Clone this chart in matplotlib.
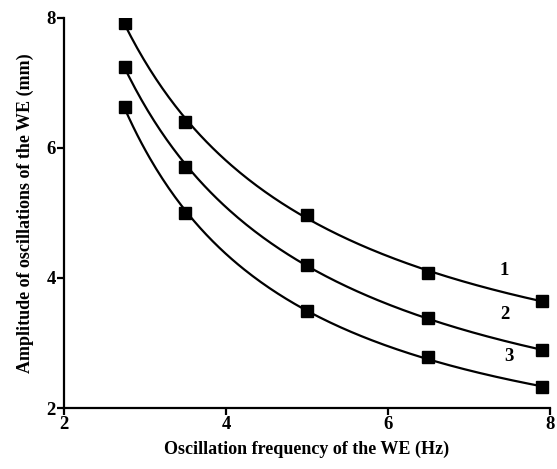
import numpy as np
import matplotlib.pyplot as plt

freq = [2.75, 3.5, 5.0, 6.5, 7.9]
amp_1 = [7.92, 6.40, 4.97, 4.08, 3.65]
amp_2 = [7.25, 5.71, 4.20, 3.38, 2.89]
amp_3 = [6.63, 5.00, 3.49, 2.78, 2.32]
curve_labels = ['1', '2', '3']
label_pos = [(7.44, 4.12), (7.44, 3.44), (7.50, 2.80)]

plt.rcParams['font.family'] = ['Liberation Serif', 'DejaVu Serif']
plt.rcParams['font.weight'] = 'bold'

fig = plt.figure(figsize=(5.57, 4.69), dpi=100)
ax = fig.add_axes([0.115, 0.130, 0.872, 0.832])

def smooth(x, y):
    # fit in log-log space, draw a smooth curve from first to last point
    p = np.polyfit(np.log(x), np.log(y), 2)
    xs = np.linspace(x[0], x[-1], 200)
    return xs, np.exp(np.polyval(p, np.log(xs)))

for y in (amp_1, amp_2, amp_3):
    xs, ys = smooth(freq, y)
    ax.plot(xs, ys, color='black', lw=1.6, zorder=2)
    ax.plot(freq, y, 's', color='black', ms=8, zorder=3)

for lab, (lx, ly) in zip(curve_labels, label_pos):
    ax.text(lx, ly, lab, fontsize=13.5, fontweight='bold', ha='center', va='center')

ax.set_xlim(2, 8)
ax.set_ylim(2, 8)
ax.set_xticks([2, 4, 6, 8])
ax.set_yticks([2, 4, 6, 8])
for s in ['top', 'right']:
    ax.spines[s].set_visible(False)
for s in ['left', 'bottom']:
    ax.spines[s].set_linewidth(1.6)
ax.tick_params(width=1.6, length=5, labelsize=13.5, pad=1)
ax.set_xlabel('Oscillation frequency of the WE (Hz)', fontsize=13, fontweight='bold', labelpad=5)
ax.set_ylabel('Amplitude of oscillations of the WE (mm)', fontsize=13, fontweight='bold', labelpad=9)

fig.savefig('out.png', dpi=100)
